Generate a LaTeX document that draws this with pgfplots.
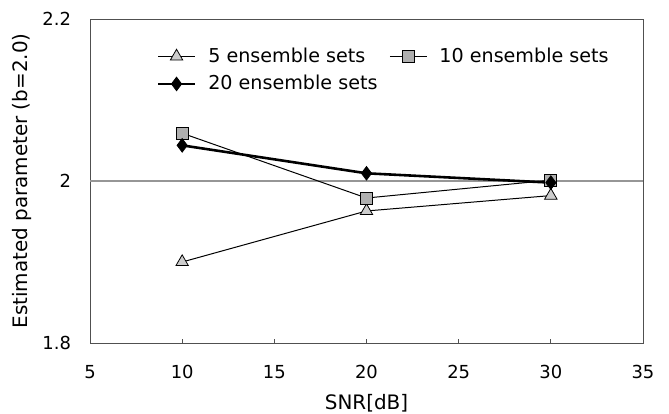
\documentclass[border=0pt]{standalone}
\usepackage{fontspec}
\setmainfont{DejaVu Sans}
\usepackage{pgfplots}
\pgfplotsset{compat=1.18}
\definecolor{framegray}{RGB}{80,80,80}
\definecolor{refgray}{RGB}{150,150,150}
\definecolor{trifill}{RGB}{205,205,205}
\definecolor{sqfill}{RGB}{175,175,175}

\begin{document}
\begin{tikzpicture}
\begin{axis}[
  name=ax,
  scale only axis,
  width=276.5bp, height=162bp,
  xmin=5, xmax=35, ymin=1.8, ymax=2.2,
  xtick={5,10,...,35}, ytick={1.8,2,2.2},
  yticklabels={1.8,2,2.2},
  font=\fontsize{9}{11}\selectfont,
  /pgf/number format/assume math mode=true,
  axis line style={framegray, line width=0.5pt},
  tick align=inside, xtick pos=bottom, ytick pos=left,
  major tick length=2bp,
  xtick style={framegray, line width=0.4pt},
  ytick style={draw=none},
  xticklabel style={anchor=center, yshift=-14.5bp},
  yticklabel style={anchor=east, xshift=-6bp},
  xlabel={SNR[dB]},
  ylabel={Estimated parameter (b=2.0)},
  xlabel style={at={(axis description cs:0.5,-0.185)}, anchor=center, font=\fontsize{10}{12}\selectfont},
  ylabel style={at={(axis description cs:-0.123,0.5)}, anchor=center, rotate=0, font=\fontsize{10}{12}\selectfont},
  legend style={draw=none, fill=none, at={(0.12,0.925)}, anchor=north west,
    inner sep=0pt, font=\fontsize{9.6}{11.5}\selectfont, column sep=4bp, row sep=1bp},
  legend columns=2,
  legend cell align=left,
  legend image code/.code={%
    \draw[mark repeat=2, mark phase=2] plot coordinates {(0bp,0bp) (9.25bp,0bp) (18.5bp,0bp)};},
]
\addplot[refgray, line width=0.8pt, forget plot] coordinates {(5,2) (35,2)};
\addplot[black, line width=0.5pt, mark=triangle*, mark size=3.6pt,
  mark options={fill=trifill, draw=black, line width=0.4pt}] coordinates {
  (10,1.900) (20,1.963) (30,1.982)
};
\addlegendentry{5 ensemble sets}
\addplot[black, line width=0.5pt, mark=square*, mark size=3pt,
  mark options={fill=sqfill, draw=black, line width=0.4pt}] coordinates {
  (10,2.059) (20,1.979) (30,2.001)
};
\addlegendentry{10 ensemble sets}
\addplot[black, line width=1.3pt, mark=diamond*, mark size=3.4pt,
  mark options={fill=black, draw=black, line width=0.4pt}] coordinates {
  (10,2.044) (20,2.0095) (30,1.998)
};
\addlegendentry{20 ensemble sets}
\end{axis}
\pgfresetboundingbox
\path[use as bounding box] ([xshift=-45bp,yshift=-35.5bp]ax.south west)
  rectangle ([xshift=13bp,yshift=9.5bp]ax.north east);
\end{tikzpicture}
\end{document}
